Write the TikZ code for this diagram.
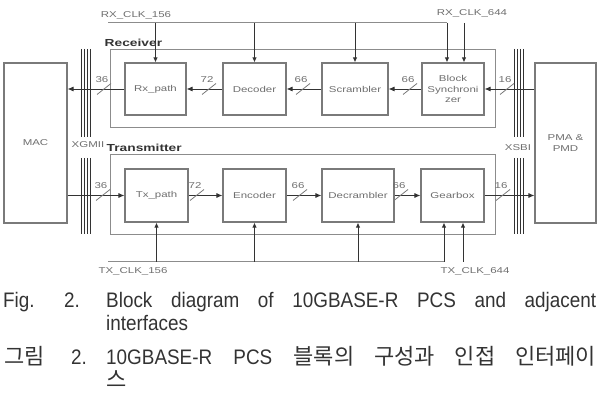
\documentclass[tikz,border=0pt]{standalone}
\usepackage{fontspec}
\setmainfont{Liberation Sans}
\newfontfamily\lblfont[FakeStretch=1.35]{Liberation Sans}
\newfontfamily\capfont[FakeStretch=0.9]{Liberation Sans}
\newfontfamily\korfont{Noto Sans CJK KR}
\usetikzlibrary{positioning, calc, arrows.meta}
\tolerance=9999
\hbadness=10000
\definecolor{Ink}{HTML}{333333}
\definecolor{Edge}{HTML}{7A7A7A}
\definecolor{Frame}{HTML}{8C8C8C}
\definecolor{Label}{HTML}{6E6E6E}
\tikzset{
    block/.style={rectangle, draw=Edge, line width=1.1pt, fill=white, text=Label, align=center, inner sep=0pt, font=\lblfont\fontsize{8.5}{10.5}\selectfont},
    frame/.style={rectangle, draw=Frame, line width=1pt, inner sep=0pt},
    group/.style={text=Ink, inner sep=0pt, anchor=base west, font=\lblfont\bfseries\fontsize{10.2}{12}\selectfont},
    tag/.style={text=Label, inner sep=0pt, font=\lblfont\fontsize{8.5}{10}\selectfont},
    wire/.style={-{Latex[length=6pt,width=5pt]}, line width=0.9pt, color=Ink},
    tap/.style={-{Latex[length=5pt,width=4.5pt]}, line width=0.9pt, color=Ink},
    clkbus/.style={line width=1pt, color=Frame},
    slash/.style={line width=0.8pt, color=Edge},
    bus/.style={line width=1pt, color=Ink},
    capline/.style={text=Ink, inner sep=0pt, anchor=base west, font=\capfont\fontsize{21}{22}\selectfont},
}

\begin{document}
\begin{tikzpicture}[x=1pt, y=-1pt]
    \useasboundingbox (0,0) rectangle (600,406);

    \node[frame, minimum width=385pt, minimum height=78pt] (rx) at (302.5,89) {};
    \node[frame, minimum width=385pt, minimum height=80pt] (tx) at (302.5,195) {};
    \node[group] at ([xshift=-5pt,yshift=3pt]rx.north west) {Receiver};
    \node[group] at ([xshift=-3pt,yshift=3pt]tx.north west) {Transmitter};

    \node[block, minimum width=63pt, minimum height=160pt] (mac) at (35.5,143) {MAC};
    \node[block, minimum width=61pt, minimum height=160pt] (pma) at (565.5,143) {PMA \&\\PMD};

    \node[block, minimum width=61pt, minimum height=52pt] (rxpath) at (155.5,89) {Rx\_path};
    \node[block, minimum width=63pt, minimum height=52pt] (dec) at (254.5,89) {Decoder};
    \node[block, minimum width=66pt, minimum height=52pt] (scr) at (355,89) {Scrambler};
    \node[block, minimum width=62pt, minimum height=52pt] (bsync) at (453,89) {Block\\Synchroni\\zer};

    \node[block, minimum width=63pt, minimum height=53pt] (txpath) at (156.5,195.5) {Tx\_path};
    \node[block, minimum width=63pt, minimum height=53pt] (enc) at (254.5,195.5) {Encoder};
    \node[block, minimum width=72pt, minimum height=53pt] (decr) at (358,195.5) {Decrambler};
    \node[block, minimum width=63pt, minimum height=53pt] (gear) at (452.5,195.5) {Gearbox};

    \foreach \x in {81,84,87,90,514,517,520,523} {
        \draw[bus] (\x,49) -- (\x,137);
        \draw[bus] (\x,158) -- (\x,234);
    }
    \node[tag] (xgmii) at (88,145) {XGMII};
    \node[tag] (xsbi) at (518,148) {XSBI};

    \draw[wire] (pma.west |- bsync) -- (bsync.east);
    \draw[wire] (bsync.west) -- (scr.east);
    \draw[wire] (scr.west) -- (dec.east);
    \draw[wire] (dec.west) -- (rxpath.east);
    \draw[wire] (rxpath.west) -- (rxpath -| mac.east);

    \draw[wire] (txpath -| mac.east) -- (txpath.west);
    \draw[wire] (txpath.east) -- (enc.west);
    \draw[wire] (enc.east) -- (decr.west);
    \draw[wire] (decr.east) -- (gear.west);
    \draw[wire] (gear.east) -- (gear -| pma.west);

    \foreach \x/\w in {104/36,209/72,303/66,410/66,507/16} {
        \draw[slash] (\x-7,94.5) -- (\x+7,83.5);
        \node[tag, anchor=base] at (\x-2,83) {\w};
    }
    \foreach \x/\w in {103/36,197/72,300/66,401/66,503/16} {
        \draw[slash] (\x-7,200.5) -- (\x+7,189.5);
        \node[tag, anchor=base] at (\x-2,189) {\w};
    }

    \coordinate (rxclk) at (108,23);
    \coordinate (txclk) at (108,262);
    \coordinate (bsclk) at ([xshift=-6pt]bsync.north);
    \coordinate (bsfast) at ([xshift=11pt]bsync.north);
    \coordinate (gbclk) at ([xshift=-8.5pt]gear.south);
    \coordinate (gbfast) at ([xshift=10.5pt]gear.south);
    \node[tag] (rx156) at (136,15) {RX\_CLK\_156};
    \node[tag] (rx644) at (472,13) {RX\_CLK\_644};
    \node[tag] (tx156) at (133,271) {TX\_CLK\_156};
    \node[tag] (tx644) at (475,271) {TX\_CLK\_644};

    \draw[clkbus] (rxclk) -- (bsclk |- rxclk);
    \foreach \b in {rxpath,dec,scr} \draw[tap] (\b.north |- rxclk) -- (\b.north);
    \draw[tap] (bsclk |- rxclk) -- (bsclk);
    \draw[tap] (bsfast |- rxclk) -- (bsfast);

    \draw[clkbus] (txclk) -- (gbclk |- txclk);
    \foreach \b in {txpath,enc,decr} \draw[tap] (\b.south |- txclk) -- (\b.south);
    \draw[tap] (gbclk |- txclk) -- (gbclk);
    \draw[tap] (gbfast |- txclk) -- (gbfast);

    \node[capline] (figen) at (3,308) {Fig.};
    \node[capline] (numen) at (64,308) {2.};
    \node[capline, text width=490pt, align=justify] (capen) at (106,308) {Block diagram of 10GBASE-R PCS and adjacent\linebreak interfaces};
    \node[capline, font=\korfont\fontsize{22}{23}\selectfont] (figko) at (4,364) {그림};
    \node[capline] (numko) at (71,364) {2.};
    \node[capline, text width=490pt, align=justify, font=\capfont\fontsize{21}{23}\selectfont] (capko) at (106,364) {10GBASE-R PCS {\korfont\fontsize{22}{23}\selectfont 블록의 구성과 인접 인터페이\linebreak 스}};
\end{tikzpicture}
\end{document}
